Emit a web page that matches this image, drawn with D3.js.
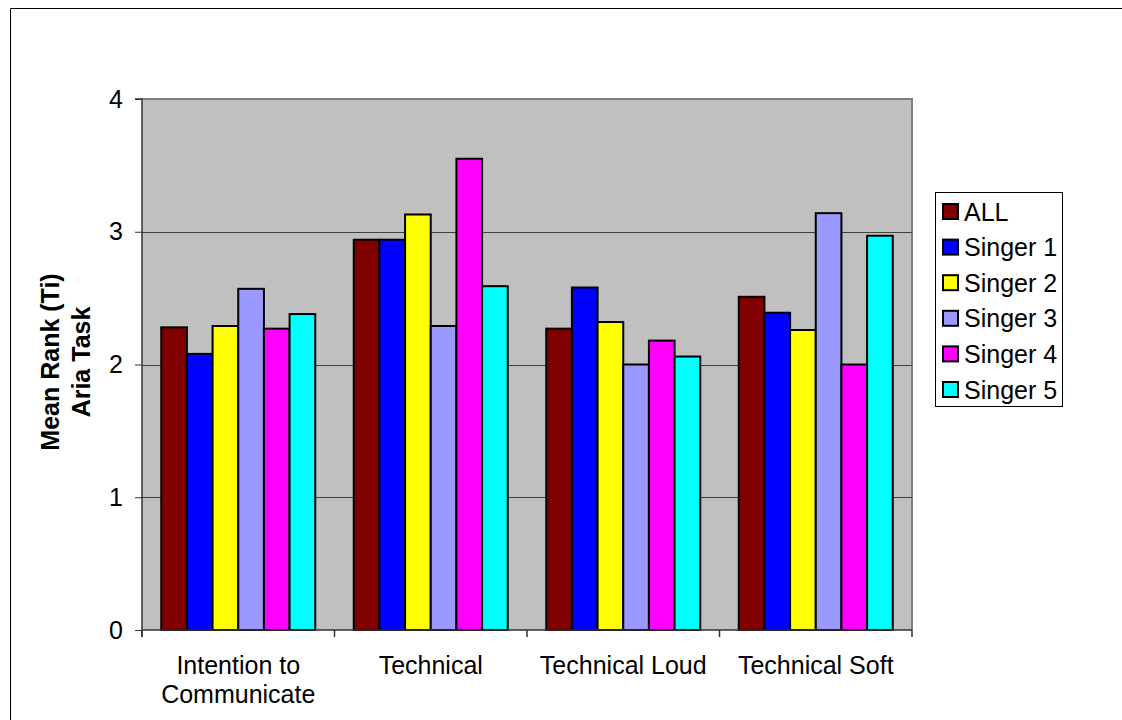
<!DOCTYPE html>
<html>
<head>
<meta charset="utf-8">
<script src="https://cdn.jsdelivr.net/npm/d3@7"></script>
<style>
  body { margin: 0; background: #fff; overflow: hidden; }
  svg { display: block; font-family: "Liberation Sans", Arial, sans-serif; }
</style>
</head>
<body>
<div class="chart"></div>
<script>
// data
const categories = [["Intention to", "Communicate"], ["Technical"], ["Technical Loud"], ["Technical Soft"]];
const seriesNames = ["ALL", "Singer 1", "Singer 2", "Singer 3", "Singer 4", "Singer 5"];
const seriesColors = ["#800000", "#0000ff", "#ffff00", "#9999ff", "#ff00ff", "#00ffff"];
const allValues = [2.28, 2.94, 2.27, 2.51];
const singer1 = [2.08, 2.94, 2.58, 2.39];
const singer2 = [2.29, 3.13, 2.32, 2.26];
const singer3 = [2.57, 2.29, 2.00, 3.14];
const singer4 = [2.27, 3.55, 2.18, 2.00];
const singer5 = [2.38, 2.59, 2.06, 2.97];
const yTicks = [0, 1, 2, 3, 4];

const series = [allValues, singer1, singer2, singer3, singer4, singer5];

const width = 1122, height = 720;
const plot = {left: 142, right: 912, top: 99, bottom: 630};

const svg = d3.select(".chart").append("svg")
    .attr("width", width)
    .attr("height", height);

// outer frame: only top and left edges are inside the picture
svg.append("path")
    .attr("d", `M10.5,${height}V8.5H${width}`)
    .attr("fill", "none").attr("stroke", "#000").attr("stroke-width", 1);

const x = d3.scaleBand()
    .domain(d3.range(categories.length))
    .range([plot.left, plot.right])
    .padding(0);

const xInner = d3.scaleBand()
    .domain(d3.range(seriesNames.length))
    .range([0, x.bandwidth()])
    .paddingInner(0)
    .paddingOuter(0.75);

const y = d3.scaleLinear().domain([0, 4]).range([plot.bottom, plot.top]);

// plot area
svg.append("rect")
    .attr("x", plot.left).attr("y", plot.top)
    .attr("width", plot.right - plot.left).attr("height", plot.bottom - plot.top)
    .attr("fill", "#c0c0c0");

// top and right border
svg.append("path")
    .attr("d", `M${plot.left},${plot.top}H${plot.right}V${plot.bottom}`)
    .attr("fill", "none").attr("stroke", "#808080").attr("stroke-width", 2);

// gridlines
svg.selectAll(".grid")
    .data(yTicks.filter(d => d > 0 && d < 4))
    .enter().append("line")
    .attr("x1", plot.left).attr("x2", plot.right)
    .attr("y1", d => Math.round(y(d)) + 0.5).attr("y2", d => Math.round(y(d)) + 0.5)
    .attr("stroke", "#404040").attr("stroke-width", 1);

// bars
const groups = svg.selectAll(".grp")
    .data(categories)
    .enter().append("g")
    .attr("transform", (d, i) => `translate(${x(i)},0)`);

groups.selectAll("rect")
    .data((d, i) => series.map((s, j) => ({j: j, v: s[i]})))
    .enter().append("rect")
    .attr("x", d => xInner(d.j))
    .attr("y", d => y(d.v))
    .attr("width", xInner.bandwidth())
    .attr("height", d => y(0) - y(d.v))
    .attr("fill", d => seriesColors[d.j])
    .attr("stroke", "#000")
    .attr("stroke-width", 2);

// y axis
const yAxis = d3.axisLeft(y).tickValues(yTicks).tickSize(7).tickPadding(12).tickFormat(d3.format("d"));
const gy = svg.append("g")
    .attr("transform", `translate(${plot.left},0)`)
    .call(yAxis);
gy.select(".domain").attr("stroke", "#333").attr("stroke-width", 1.5)
    .attr("d", `M-7,${plot.top}H0V${plot.bottom + 7}`);
gy.selectAll(".tick line").attr("stroke", "#333");
gy.selectAll(".tick text").attr("font-size", 25).attr("fill", "#000")
    .attr("font-family", "'Liberation Sans', Arial, sans-serif");

// x axis ticks at category boundaries
const bounds = d3.range(categories.length + 1).map(i => i < categories.length ? x(i) : plot.right);
svg.append("line")
    .attr("x1", plot.left).attr("x2", plot.right)
    .attr("y1", plot.bottom).attr("y2", plot.bottom)
    .attr("stroke", "#333").attr("stroke-width", 1.5);
svg.selectAll(".xtick")
    .data(bounds)
    .enter().append("line")
    .attr("x1", d => d).attr("x2", d => d)
    .attr("y1", plot.bottom).attr("y2", plot.bottom + 7)
    .attr("stroke", "#333").attr("stroke-width", 1.5);

// category labels
svg.selectAll(".cat")
    .data(categories)
    .enter().append("text")
    .attr("text-anchor", "middle")
    .attr("font-size", 25)
    .attr("transform", (d, i) => `translate(${x(i) + x.bandwidth() / 2},674)`)
    .selectAll("tspan")
    .data(d => d)
    .enter().append("tspan")
    .attr("x", 0)
    .attr("y", (d, i) => i * 29)
    .text(d => d);

// y axis title
const yTitle = ["Mean Rank (Ti)", "Aria Task"];
svg.selectAll(".ytitle")
    .data(yTitle)
    .enter().append("text")
    .attr("text-anchor", "middle")
    .attr("font-weight", "bold")
    .attr("font-size", 25)
    .attr("transform", (d, i) => `translate(${59 + i * 31},362) rotate(-90)`)
    .text(d => d);

// legend
const legend = svg.append("g");
legend.append("rect")
    .attr("x", 935.5).attr("y", 192.5)
    .attr("width", 127).attr("height", 214)
    .attr("fill", "#fff").attr("stroke", "#000").attr("stroke-width", 1);

const items = legend.selectAll(".item")
    .data(seriesNames)
    .enter().append("g")
    .attr("transform", (d, i) => `translate(943,${211.5 + i * 35.6})`);
items.append("rect")
    .attr("x", 0).attr("y", -7.5)
    .attr("width", 15).attr("height", 15)
    .attr("fill", (d, i) => seriesColors[i])
    .attr("stroke", "#000").attr("stroke-width", 2);
items.append("text")
    .attr("x", 21).attr("y", 9)
    .attr("font-size", 25)
    .text(d => d);
</script>
</body>
</html>
